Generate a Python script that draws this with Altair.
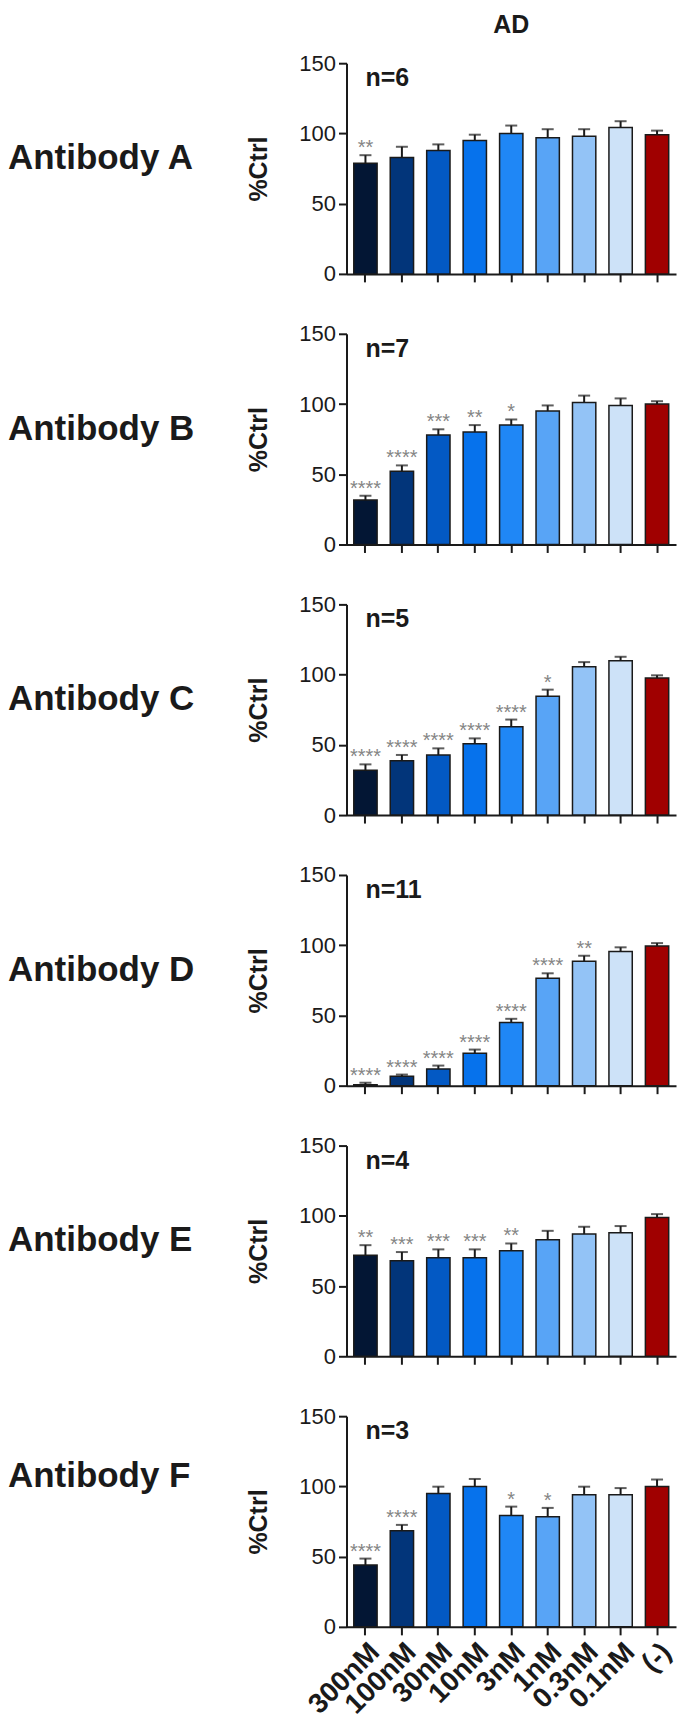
import altair as alt
import pandas as pd

concs = ["300nM", "100nM", "30nM", "10nM", "3nM", "1nM", "0.3nM", "0.1nM", "(-)"]
colors = ["#031634", "#02357a", "#0359c4", "#0672ec", "#1f87f6",
          "#58a4f6", "#93c3f6", "#cde2f8", "#a00000"]

antibodies = ["A", "B", "C", "D", "E", "F"]
n_values = [6, 7, 5, 11, 4, 3]
group_title = "AD"

mean_a = [78.7, 82.8, 87.8, 95.0, 100.0, 97.0, 98.0, 104.2, 99.1]
sem_a = [5.8, 7.7, 4.4, 4.1, 5.6, 6.0, 5.0, 4.5, 2.9]
star_a = ["**", "", "", "", "", "", "", "", ""]

mean_b = [31.6, 52.1, 78.0, 80.0, 85.0, 95.0, 101.0, 99.0, 100.0]
sem_b = [3.1, 4.2, 4.0, 5.0, 4.0, 4.0, 5.0, 5.0, 2.0]
star_b = ["****", "****", "***", "**", "*", "", "", "", ""]

mean_c = [31.9, 38.7, 42.8, 50.8, 62.8, 84.6, 105.6, 109.9, 97.6]
sem_c = [4.2, 4.1, 4.7, 3.8, 5.2, 4.7, 3.3, 2.8, 1.9]
star_c = ["****", "****", "****", "****", "****", "*", "", "", ""]

mean_d = [0.7, 6.7, 11.9, 23.1, 45.0, 76.5, 88.5, 95.5, 99.5]
sem_d = [1.4, 1.2, 2.4, 2.6, 2.6, 3.5, 4.0, 3.0, 2.0]
star_d = ["****", "****", "****", "****", "****", "****", "**", "", ""]

mean_e = [72.0, 68.0, 70.1, 70.1, 75.1, 82.9, 87.0, 87.9, 98.8]
sem_e = [7.1, 6.2, 6.0, 6.0, 5.2, 6.4, 5.2, 4.8, 2.4]
star_e = ["**", "***", "***", "***", "**", "", "", "", ""]

mean_f = [44.0, 68.4, 94.9, 100.0, 79.3, 78.4, 94.0, 94.0, 100.0]
sem_f = [4.6, 4.2, 4.9, 5.3, 6.3, 6.3, 5.8, 4.8, 4.9]
star_f = ["****", "****", "", "", "*", "*", "", "", ""]

means = [mean_a, mean_b, mean_c, mean_d, mean_e, mean_f]
sems = [sem_a, sem_b, sem_c, sem_d, sem_e, sem_f]
stars = [star_a, star_b, star_c, star_d, star_e, star_f]

FONT = "Liberation Sans"
INK = "#1a1a1a"
PLOT_W = 330
PLOT_H = 211
LEFT = 339


def panel(ab, n, mean, sem, star, first, last):
    df = pd.DataFrame({"conc": concs, "mean": mean, "sem": sem, "star": star})
    base = alt.Chart(df).transform_calculate(hi="datum.mean + datum.sem")

    if last:
        xaxis = alt.Axis(title=None, labelAngle=-45, labelFontSize=28,
                         labelFontWeight="bold", labelPadding=3)
    else:
        xaxis = alt.Axis(title=None, labels=False)

    x = alt.X("conc:N", sort=concs,
              scale=alt.Scale(paddingInner=0.36, paddingOuter=0.2),
              axis=xaxis)
    xs = alt.X("conc:N", sort=concs)
    y = alt.Y("mean:Q", scale=alt.Scale(domain=[0, 150], nice=False),
              axis=alt.Axis(values=[0, 50, 100, 150], title="%Ctrl",
                            titleFontSize=25, titleFontWeight="bold",
                            titlePadding=27))

    bars = base.mark_bar(stroke=INK, strokeWidth=1.5).encode(
        x=x, y=y,
        color=alt.Color("conc:N", sort=concs,
                        scale=alt.Scale(domain=concs, range=colors),
                        legend=None))
    rule = base.mark_rule(color=INK, strokeWidth=2).encode(
        x=xs, y="mean:Q", y2="hi:Q")
    cap = base.mark_tick(color=INK, thickness=2, size=12).encode(
        x=xs, y="hi:Q")
    st = base.mark_text(font=FONT, fontSize=20, color="#858585",
                        baseline="alphabetic", dy=-1).encode(
        x=xs, y="hi:Q", text="star:N")

    nlab = alt.Chart(pd.DataFrame({"t": [f"n={n}"]})).mark_text(
        font=FONT, fontSize=25, fontWeight="bold", color=INK,
        align="left", baseline="middle").encode(
        x=alt.value(19), y=alt.value(15), text="t:N")

    label_y = 60 if last else 95
    ablab = alt.Chart(pd.DataFrame({"t": [f"Antibody {ab}"]})).mark_text(
        font=FONT, fontSize=35, fontWeight="bold", color=INK,
        align="left", baseline="middle").encode(
        x=alt.value(-LEFT), y=alt.value(label_y), text="t:N")

    layers = [bars, rule, cap, st, nlab, ablab]
    if first:
        ttl = alt.Chart(pd.DataFrame({"t": [group_title]})).mark_text(
            font=FONT, fontSize=25, fontWeight="bold", color=INK,
            align="center", baseline="top").encode(
            x=alt.value(PLOT_W / 2), y=alt.value(-50), text="t:N")
        layers.append(ttl)

    return alt.layer(*layers).properties(width=PLOT_W, height=PLOT_H)


panels = []
for i, ab in enumerate(antibodies):
    panels.append(panel(ab, n_values[i], means[i], sems[i], stars[i],
                        i == 0, i == len(antibodies) - 1))

chart = alt.vconcat(*panels, spacing=60, bounds="flush").properties(
    background="white",
    padding={"top": 4, "left": 0, "right": 0, "bottom": 0},
).configure_view(
    stroke=None
).configure_axis(
    grid=False,
    domainColor=INK, domainWidth=2,
    tickColor=INK, tickWidth=2, tickSize=8,
    labelFont=FONT, labelFontSize=22, labelColor=INK, labelPadding=3,
    titleFont=FONT, titleColor=INK,
)

chart.save("out.html", embed_options={"renderer": "svg", "actions": False})
